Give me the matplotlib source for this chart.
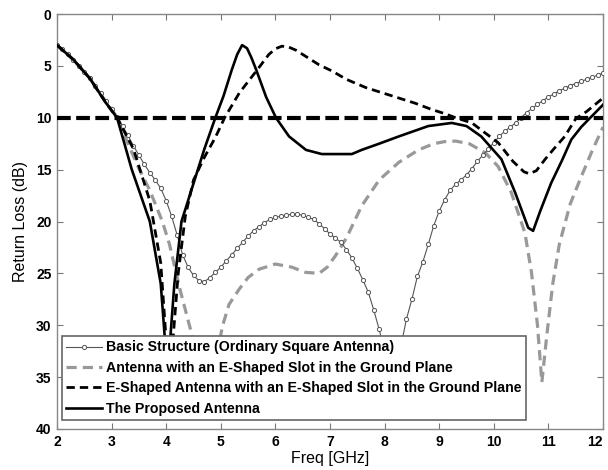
import matplotlib
matplotlib.use("Agg")
import matplotlib.pyplot as plt

plt.rcParams['font.family'] = ['Liberation Sans', 'DejaVu Sans']

# ---- data (Freq in GHz, Return loss in dB) ----
basic_x = [2.0, 2.1, 2.2, 2.3, 2.4, 2.5, 2.6, 2.7, 2.8, 2.9, 3.0, 3.1, 3.2, 3.3, 3.4,
           3.5, 3.6, 3.7, 3.8, 3.9, 4.0, 4.1, 4.2, 4.3, 4.4, 4.5, 4.6, 4.7, 4.8, 4.9,
           5.0, 5.1, 5.2, 5.3, 5.4, 5.5, 5.6, 5.7, 5.8, 5.9, 6.0, 6.1, 6.2, 6.3, 6.4,
           6.5, 6.6, 6.7, 6.8, 6.9, 7.0, 7.1, 7.2, 7.3, 7.4, 7.5, 7.6, 7.7, 7.8, 7.9,
           8.0, 8.1, 8.2, 8.3, 8.4, 8.5, 8.6, 8.7, 8.8, 8.9, 9.0, 9.1, 9.2, 9.3, 9.4,
           9.5, 9.6, 9.7, 9.8, 9.9, 10.0, 10.1, 10.2, 10.3, 10.4, 10.5, 10.6, 10.7,
           10.8, 10.9, 11.0, 11.1, 11.2, 11.3, 11.4, 11.5, 11.6, 11.7, 11.8, 11.9, 12.0]
basic_y = [3.0, 3.4, 3.9, 4.4, 5.0, 5.6, 6.2, 6.9, 7.6, 8.4, 9.2, 9.9, 10.8, 11.7, 12.7,
           13.6, 14.5, 15.3, 16.0, 16.8, 18.0, 19.5, 21.3, 23.2, 24.4, 25.2, 25.7, 25.8, 25.4, 24.9,
           24.4, 23.8, 23.2, 22.6, 22.0, 21.4, 20.9, 20.5, 20.1, 19.8, 19.6, 19.5, 19.4, 19.3, 19.3,
           19.4, 19.6, 19.8, 20.2, 20.7, 21.2, 21.6, 22.0, 22.7, 23.5, 24.5, 25.6, 26.8, 28.5, 30.4,
           32.5, 34.5, 35.0, 32.0, 29.4, 27.5, 25.3, 23.9, 22.2, 20.4, 19.0, 17.9, 17.0, 16.4, 16.0,
           15.5, 14.9, 14.2, 13.6, 13.0, 12.4, 11.8, 11.3, 10.9, 10.5, 10.0, 9.5, 9.1,
           8.7, 8.35, 8.0, 7.7, 7.4, 7.15, 6.9, 6.7, 6.5, 6.3, 6.1, 5.9, 5.7]

slot_x = [2.0, 2.3, 2.6, 2.9, 3.11, 3.3, 3.51, 3.7, 3.93, 4.06, 4.25, 4.46, 4.6, 4.75,
          4.85, 5.03, 5.15, 5.34, 5.5, 5.7, 6.0, 6.3, 6.55, 6.8, 6.95, 7.1, 7.3, 7.58,
          7.9, 8.26, 8.62, 8.9, 9.1, 9.3, 9.55, 9.85, 10.08, 10.32, 10.57, 10.69, 10.8,
          10.88, 10.97, 11.08, 11.2, 11.4, 11.6, 11.8, 12.0]
slot_y = [3.0, 4.4, 6.2, 8.5, 10.0, 12.5, 15.0, 17.0, 20.0, 22.2, 26.5, 30.7, 34.0, 36.5,
          35.0, 30.1, 28.0, 26.5, 25.4, 24.6, 24.1, 24.4, 24.9, 25.0, 24.4, 23.3, 21.6, 18.5,
          16.0, 14.3, 13.1, 12.5, 12.3, 12.25, 12.5, 13.4, 14.7, 17.2, 21.1, 24.9, 30.0,
          35.5, 31.0, 26.0, 22.2, 18.3, 15.7, 13.2, 10.9]

eshape_x = [2.0, 2.3, 2.6, 2.9, 3.1, 3.4, 3.7, 3.9, 4.02, 4.1, 4.22, 4.35, 4.5, 4.7,
            4.9, 5.07, 5.34, 5.65, 5.88, 6.0, 6.12, 6.25, 6.38, 6.8, 7.04, 7.3, 7.66,
            7.96, 8.26, 8.56, 8.86, 9.1, 9.3, 9.6, 9.8, 10.08, 10.35, 10.55, 10.65,
            10.78, 10.94, 11.1, 11.3, 11.5, 11.7, 12.0]
eshape_y = [3.0, 4.4, 6.2, 8.6, 10.0, 13.0, 18.0, 24.0, 33.0, 33.0, 25.0, 19.5, 16.0, 13.8,
            11.9, 10.0, 7.6, 5.5, 3.9, 3.35, 3.1, 3.2, 3.5, 4.9, 5.5, 6.3, 7.1,
            7.6, 8.1, 8.6, 9.2, 9.6, 10.0, 10.5, 11.3, 12.4, 14.2, 15.2, 15.4,
            15.1, 14.0, 13.0, 11.8, 10.1, 9.4, 8.1]

prop_x = [2.0, 2.3, 2.6, 2.9, 3.1, 3.37, 3.7, 3.9, 4.0, 4.05, 4.15, 4.28, 4.4, 4.55,
          4.7, 4.9, 5.05, 5.2, 5.3, 5.39, 5.48, 5.56, 5.65, 5.83, 6.01, 6.25, 6.56,
          6.85, 7.1, 7.4, 7.58, 7.9, 8.26, 8.8, 9.23, 9.5, 9.77, 10.14, 10.39, 10.63,
          10.72, 10.85, 11.05, 11.25, 11.42, 11.6, 11.73, 12.0]
prop_y = [3.0, 4.4, 6.2, 8.6, 10.0, 15.0, 20.0, 26.0, 33.0, 33.0, 26.0, 20.0, 18.0, 15.5,
          13.0, 10.0, 7.9, 5.4, 3.9, 3.0, 3.3, 4.2, 5.4, 8.0, 10.0, 11.8, 13.1,
          13.5, 13.5, 13.5, 13.1, 12.5, 11.8, 10.8, 10.5, 10.8, 11.8, 14.0, 17.2, 20.6,
          20.9, 19.0, 16.3, 14.1, 12.1, 10.9, 10.2, 8.75]

threshold = 10
labels = ["Basic Structure (Ordinary Square Antenna)",
          "Antenna with an E-Shaped Slot in the Ground Plane",
          "E-Shaped Antenna with an E-Shaped Slot in the Ground Plane",
          "The Proposed Antenna"]
x_ticks = [2, 3, 4, 5, 6, 7, 8, 9, 10, 11, 12]
y_ticks = [0, 5, 10, 15, 20, 25, 30, 35, 40]

fig = plt.figure(figsize=(6.08, 4.70), dpi=100)
ax = fig.add_axes([57/608, 1-429/470, (603-57)/608, (429-14)/470])

ax.plot(basic_x, basic_y, color='#555555', lw=0.8, marker='o', ms=3.0,
        mfc='white', mec='#555555', mew=0.7, label=labels[0], zorder=3)
ax.plot(slot_x, slot_y, color='#999999', lw=2.3, dashes=(3.2, 1.9),
        label=labels[1], zorder=2)
ax.plot(eshape_x, eshape_y, color='black', lw=2.0, dashes=(3.0, 1.8),
        label=labels[2], zorder=4)
ax.plot(prop_x, prop_y, color='black', lw=1.9, label=labels[3], zorder=5)
ax.axhline(threshold, color='black', lw=3.0, dashes=(3.3, 1.3), zorder=6)

ax.set_xlim(2, 12)
ax.set_ylim(40, 0)
ax.set_xticks(x_ticks)
ax.set_yticks(y_ticks)
for lab in ax.get_xticklabels() + ax.get_yticklabels():
    lab.set_fontweight('bold')
    lab.set_fontsize(10)
ax.get_xticklabels()[-1].set_horizontalalignment('right')
ax.tick_params(direction='in', length=4, color='#777777', top=True, right=True,
               pad=4)
for s in ax.spines.values():
    s.set_color('#888888')
    s.set_linewidth(1.0)

ax.set_xlabel('Freq [GHz]', fontsize=11.5, labelpad=2)
ax.set_ylabel('Return Loss (dB)', fontsize=11.5, labelpad=6)

leg = ax.legend(loc='lower left', bbox_to_anchor=(0.009, 0.022), borderaxespad=0,
                fancybox=False, framealpha=1, edgecolor='#666666', borderpad=0.3,
                labelspacing=0.45, handlelength=2.5, handletextpad=0.3,
                prop={'weight': 'bold', 'size': 10.2})
leg.get_frame().set_linewidth(1.2)
leg.set_zorder(10)

fig.savefig('out.png', dpi=100)
